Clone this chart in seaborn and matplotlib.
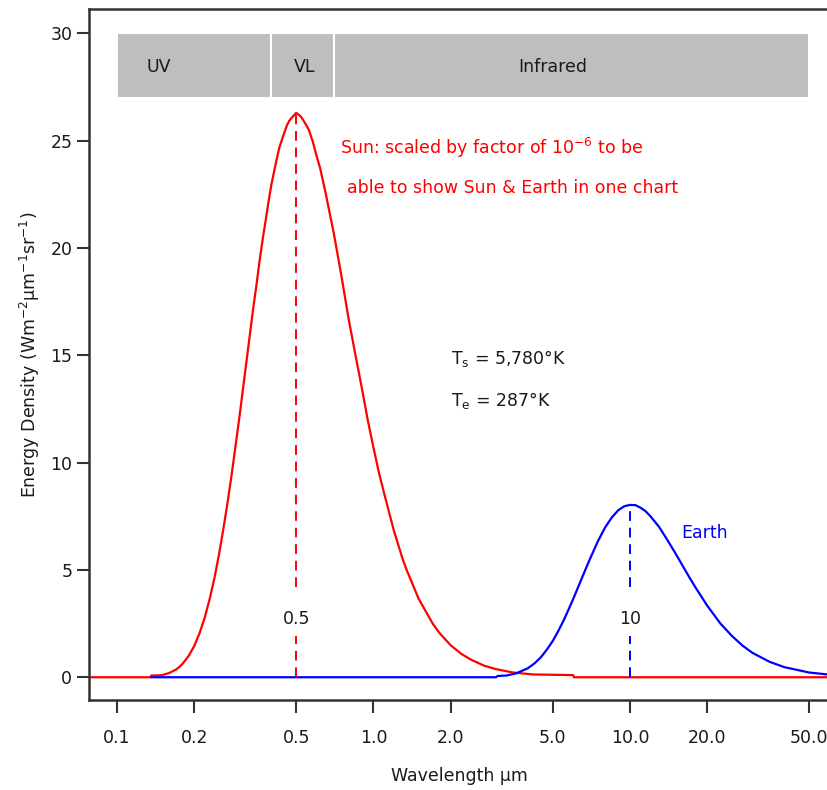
import numpy as np
import pandas as pd
import matplotlib
matplotlib.use("Agg")
import matplotlib.pyplot as plt
from matplotlib.patches import Rectangle
import seaborn as sns

# Sun curve (scaled by 1e-6): wavelength in µm, energy density
sun_wl = [0.078, 0.135, 0.136, 0.14, 0.15, 0.16, 0.17, 0.175, 0.18, 0.19,
          0.2, 0.21, 0.22, 0.23, 0.24, 0.25, 0.26, 0.27, 0.28, 0.29,
          0.3, 0.31, 0.32, 0.33, 0.34, 0.35, 0.36, 0.37, 0.38, 0.39,
          0.4, 0.42, 0.43, 0.45, 0.46, 0.47, 0.48, 0.5, 0.52, 0.53,
          0.55, 0.56, 0.58, 0.6, 0.62, 0.65, 0.68, 0.7, 0.72, 0.75,
          0.8, 0.85, 0.9, 0.95, 1.0, 1.05, 1.1, 1.2, 1.3, 1.35,
          1.5, 1.7, 1.8, 2.0, 2.2, 2.4, 2.7, 3.0, 3.5, 4.2,
          6.0, 6.05, 60]
sun_val = [0, 0, 0.08, 0.08, 0.1, 0.2, 0.36, 0.48, 0.62, 0.98,
           1.45, 2.06, 2.79, 3.66, 4.64, 5.73, 6.92, 8.16, 9.45, 10.79,
           12.1, 13.44, 14.74, 16.0, 17.22, 18.3, 19.43, 20.42, 21.3, 22.17,
           22.96, 24.17, 24.7, 25.4, 25.72, 25.94, 26.07, 26.3, 26.14, 26.0,
           25.68, 25.5, 24.96, 24.3, 23.71, 22.6, 21.44, 20.7, 19.89, 18.7,
           16.7, 15.04, 13.5, 11.99, 10.7, 9.54, 8.58, 6.85, 5.5, 4.97,
           3.66, 2.51, 2.09, 1.49, 1.09, 0.82, 0.54, 0.38, 0.22, 0.13,
           0.1, 0, 0]

# Earth curve
earth_wl = [0.136, 3.0, 3.05, 3.3, 3.6, 4.0, 4.25, 4.5, 4.75, 5.0,
            5.25, 5.5, 5.75, 6.0, 6.25, 6.5, 6.75, 7.0, 7.5, 8.0,
            8.5, 9.0, 9.5, 10.0, 10.5, 11.0, 11.5, 12.0, 13.0, 14.0,
            15.0, 16.0, 17.0, 18.0, 20.0, 22.5, 25.0, 27.5, 30.0, 35.0,
            40.0, 50.0, 60.0]
earth_val = [0, 0, 0.06, 0.08, 0.18, 0.42, 0.65, 0.94, 1.3, 1.69,
             2.15, 2.62, 3.13, 3.63, 4.14, 4.63, 5.1, 5.54, 6.34, 6.98,
             7.45, 7.78, 7.97, 8.03, 8.02, 7.9, 7.74, 7.51, 7.0, 6.39,
             5.8, 5.22, 4.68, 4.19, 3.34, 2.51, 1.92, 1.47, 1.14, 0.72,
             0.47, 0.22, 0.12]

# spectrum bands across the top
band_names = ["UV", "VL", "Infrared"]
band_start = [0.1, 0.4, 0.7]
band_end = [0.4, 0.7, 50]
band_label_x = [0.145, 0.54, 5.0]

x_ticks = [0.1, 0.2, 0.5, 1, 2, 5, 10, 20, 50]
x_tick_labels = ["0.1", "0.2", "0.5", "1.0", "2.0", "5.0", "10.0", "20.0", "50.0"]
y_ticks = [0, 5, 10, 15, 20, 25, 30]

sns.set_style("ticks")
plt.rcParams["font.family"] = ["DejaVu Sans"]
plt.rcParams["mathtext.default"] = "regular"
FS = 12.5
TXT = "#1a1a1a"

fig = plt.figure(figsize=(8.28, 7.9), dpi=100)
ax = fig.add_axes([89 / 828, 1 - 700 / 790, 740 / 828, 691 / 790])
ax.set_xscale("log")

sun_df = pd.DataFrame({"wl": sun_wl, "val": sun_val})
earth_df = pd.DataFrame({"wl": earth_wl, "val": earth_val})
sns.lineplot(data=sun_df, x="wl", y="val", color="#ff0000", lw=1.6, ax=ax, estimator=None)
sns.lineplot(data=earth_df, x="wl", y="val", color="#0000ff", lw=1.6, ax=ax, estimator=None)

# peak markers: dashed drops with a gap for the label
gap_lo, gap_hi, lab_y = 1.9, 4.2, 2.73
for df, col, lab in [(sun_df, "#ff0000", "0.5"), (earth_df, "#0000ff", "10")]:
    i = df["val"].idxmax()
    px, py = df.loc[i, "wl"], df.loc[i, "val"]
    ax.vlines(px, 0, gap_lo, colors=col, linestyles=(0, (5, 3.5)), lw=1.4)
    ax.vlines(px, gap_hi, py, colors=col, linestyles=(0, (5, 3.5)), lw=1.4)
    ax.text(px, lab_y, lab, ha="center", va="center", fontsize=FS, color=TXT)

# bands
for name, s, e, lx in zip(band_names, band_start, band_end, band_label_x):
    ax.add_patch(Rectangle((s, 27), e - s, 3, facecolor="#bebebe",
                           edgecolor="white", lw=1.5, zorder=1))
    ax.text(lx, 28.42, name, ha="center", va="center", fontsize=FS, color=TXT)

ax.text(0.74, 24.68, "Sun: scaled by factor of 10$^{-6}$ to be", color="#ff0000",
        fontsize=FS, va="center", ha="left")
ax.text(0.786, 22.8, "able to show Sun & Earth in one chart", color="#ff0000",
        fontsize=FS, va="center", ha="left")
ax.text(2.0, 14.84, "T$_s$ = 5,780°K", fontsize=FS, va="center", ha="left", color=TXT)
ax.text(2.0, 12.9, "T$_e$ = 287°K", fontsize=FS, va="center", ha="left", color=TXT)
ax.text(15.9, 6.72, "Earth", color="#0000ff", fontsize=FS, va="center", ha="left")

ax.set_xlim(0.0778, 59.7)
ax.set_ylim(-1.06, 31.14)
ax.set_xticks(x_ticks)
ax.set_xticklabels(x_tick_labels)
ax.minorticks_off()
ax.set_yticks(y_ticks)
ax.tick_params(axis="both", labelsize=FS, length=9, width=1.5, colors="#333333",
               labelcolor=TXT)
ax.tick_params(axis="x", pad=12)
ax.tick_params(axis="y", pad=3)
ax.set_xlabel("Wavelength µm", fontsize=FS, color=TXT, labelpad=14)
ax.set_ylabel("Energy Density (Wm$^{-2}$µm$^{-1}$sr$^{-1}$)", fontsize=FS,
              color=TXT, labelpad=6)
for side in ["left", "top", "bottom"]:
    ax.spines[side].set_linewidth(1.8)
    ax.spines[side].set_color("#333333")
ax.spines["right"].set_visible(False)

fig.savefig("out.png", dpi=100)
